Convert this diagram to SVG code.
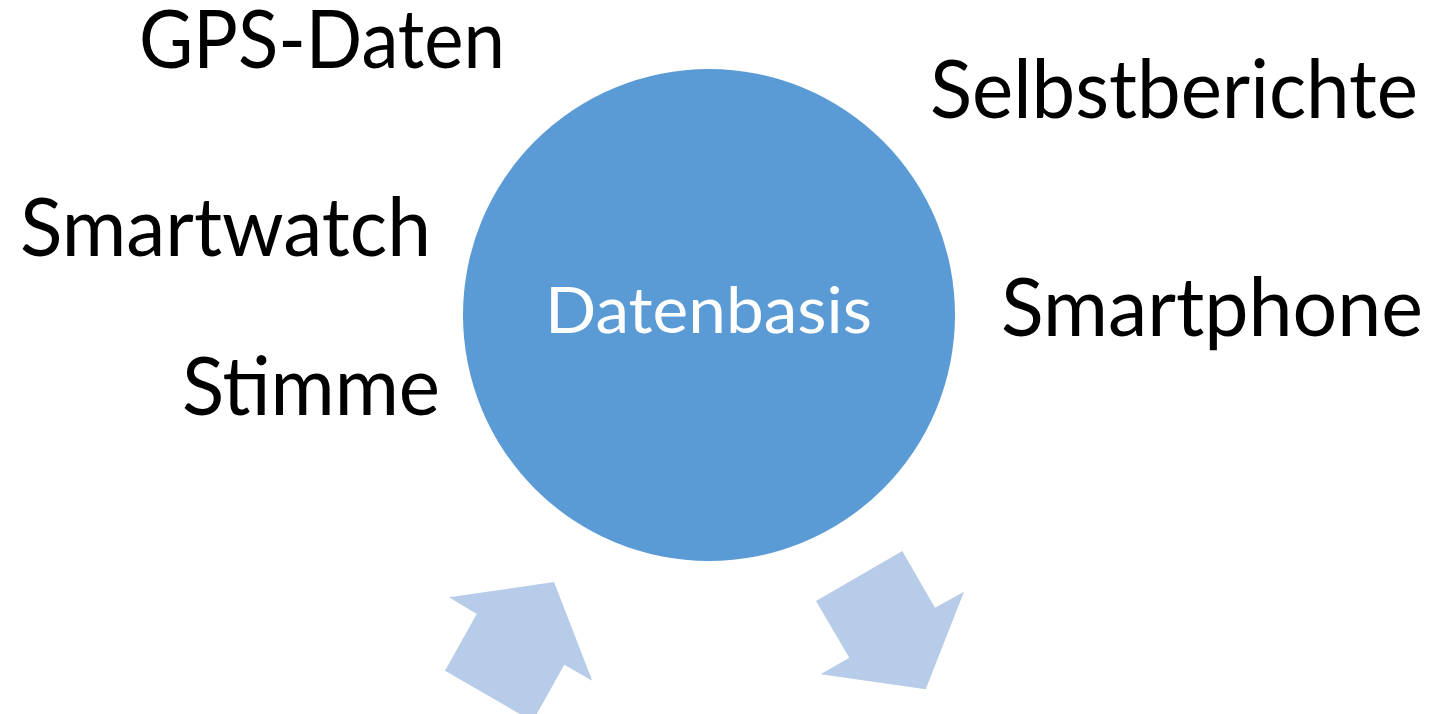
<svg xmlns="http://www.w3.org/2000/svg" width="1439" height="714" viewBox="0 0 1439 714">
<style>
.lbl{font-family:Lato,"Open Sans","Liberation Sans",sans-serif;font-size:82px;fill:#000}
.ctr{font-family:Lato,"Open Sans","Liberation Sans",sans-serif;font-size:63px;fill:#fff}
.arr{fill:#B7CCE8}
</style>
<rect width="1439" height="714" fill="#fff"/>
<g id="connectors">
<polygon class="arr" points="554,582 592.3,680.7 564.3,664.7 532.6,721.4 445,670.7 476.7,614 449,597.3"/>
<polygon class="arr" points="816,601 902.3,551 935,607.7 964,591.7 925.7,689.3 820.7,674.3 849.3,657.7"/>
</g>
<g id="datenbasis">
<circle cx="709" cy="315" r="246" fill="#5B9BD5"/>
<text class="ctr" x="545" y="333" textLength="327" lengthAdjust="spacingAndGlyphs">Datenbasis</text>
</g>
<g id="gps"><text class="lbl" x="139" y="68" textLength="366" lengthAdjust="spacingAndGlyphs">GPS-Daten</text></g>
<g id="selbstberichte"><text class="lbl" x="930" y="118" textLength="488" lengthAdjust="spacingAndGlyphs">Selbstberichte</text></g>
<g id="smartwatch"><text class="lbl" x="20" y="256" textLength="411" lengthAdjust="spacingAndGlyphs">Smartwatch</text></g>
<g id="smartphone"><text class="lbl" x="1001" y="336" textLength="422" lengthAdjust="spacingAndGlyphs">Smartphone</text></g>
<g id="stimme"><text class="lbl" x="182" y="415" textLength="258" lengthAdjust="spacingAndGlyphs">Stimme</text></g>
</svg>
